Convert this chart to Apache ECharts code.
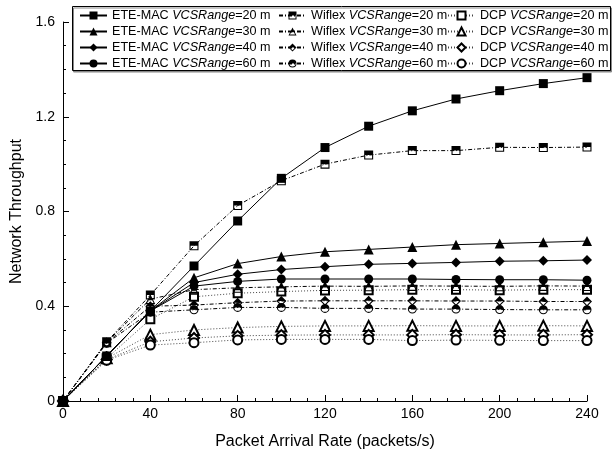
<!DOCTYPE html>
<html>
<head>
<meta charset="utf-8">
<script src="https://cdn.jsdelivr.net/npm/echarts@6/dist/echarts.min.js"></script>
<style>
  html, body { margin: 0; padding: 0; background: #fff; }
  #MyChart { width: 614px; height: 459px; }
</style>
</head>
<body>
<div id="MyChart"></div>
<script>
// packet arrival rate (packets/s)
const rates = [0, 20, 40, 60, 80, 100, 120, 140, 160, 180, 200, 220, 240];
const ranges = ['20', '30', '40', '60'];

// network throughput
const eteMac20 = [0, 0.19, 0.38, 0.57, 0.76, 0.94, 1.07, 1.16, 1.225, 1.275, 1.31, 1.34, 1.365];
const eteMac30 = [0, 0.19, 0.38, 0.52, 0.58, 0.61, 0.63, 0.64, 0.65, 0.66, 0.665, 0.67, 0.675];
const eteMac40 = [0, 0.19, 0.38, 0.50, 0.535, 0.555, 0.567, 0.577, 0.581, 0.585, 0.59, 0.592, 0.595];
const eteMac60 = [0, 0.19, 0.38, 0.485, 0.505, 0.515, 0.515, 0.515, 0.515, 0.513, 0.512, 0.512, 0.51];

const wiflex20 = [0, 0.25, 0.447, 0.655, 0.825, 0.93, 1.0, 1.038, 1.057, 1.057, 1.071, 1.07, 1.072];
const wiflex30 = [0, 0.248, 0.43, 0.47, 0.478, 0.482, 0.485, 0.484, 0.486, 0.485, 0.484, 0.486, 0.485];
const wiflex40 = [0, 0.246, 0.40, 0.405, 0.415, 0.422, 0.423, 0.423, 0.423, 0.422, 0.422, 0.42, 0.42];
const wiflex60 = [0, 0.244, 0.375, 0.385, 0.395, 0.395, 0.391, 0.391, 0.388, 0.388, 0.386, 0.385, 0.385];

const dcp20 = [0, 0.18, 0.345, 0.44, 0.455, 0.462, 0.467, 0.468, 0.47, 0.47, 0.468, 0.47, 0.47];
const dcp30 = [0, 0.18, 0.28, 0.30, 0.31, 0.315, 0.317, 0.317, 0.318, 0.317, 0.317, 0.318, 0.317];
const dcp40 = [0, 0.175, 0.25, 0.266, 0.275, 0.278, 0.279, 0.279, 0.279, 0.28, 0.279, 0.279, 0.28];
const dcp60 = [0, 0.172, 0.236, 0.246, 0.258, 0.26, 0.26, 0.26, 0.255, 0.257, 0.256, 0.255, 0.255];

const xTicks = [0, 240, 40];      // min, max, step
const yTicks = [0, 1.6, 0.4];

// half filled markers (outline ring + filled top half)
const halfRect = 'path://M0,0L10,0L10,10L0,10Z M1.2,1.2L1.2,8.8L8.8,8.8L8.8,1.2Z M1.2,1.2L8.8,1.2L8.8,5L1.2,5Z';
const halfTri = 'path://M5,0L10,10L0,10Z M5,2.46L1.78,8.9L8.22,8.9Z M5,2.46L6.77,6L3.23,6Z';
const halfDia = 'path://M5,0L10,5L5,10L0,5Z M5,1.56L1.56,5L5,8.44L8.44,5Z M5,1.56L8.44,5L1.56,5Z';
const halfCir = 'path://M5,0A5,5 0 1,1 5,10A5,5 0 1,1 5,0Z M5,1.2A3.8,3.8 0 1,0 5,8.8A3.8,3.8 0 1,0 5,1.2Z M1.2,5A3.8,3.8 0 0,1 8.8,5Z';

const font = 'Liberation Sans';

function pairs(vals) {
  return rates.map((r, i) => [r, vals[i]]);
}

function makeSeries(proto, valsList, symbols, sizes, lineStyle, itemStyle) {
  return valsList.map((vals, k) => ({
    name: proto + ' VCSRange=' + ranges[k] + ' m',
    type: 'line',
    data: pairs(vals),
    symbol: symbols[k],
    symbolSize: sizes[k],
    showAllSymbol: true,
    lineStyle: lineStyle,
    itemStyle: itemStyle,
    emphasis: { disabled: true }
  }));
}

const dcpSeries = makeSeries('DCP', [dcp20, dcp30, dcp40, dcp60],
  ['emptyRect', 'emptyTriangle', 'emptyDiamond', 'emptyCircle'], [8, 10, 10, 9],
  { color: '#444', width: 1, type: [1, 2] },
  { color: '#000', borderColor: '#000', borderWidth: 1 });
const wiflexSeries = makeSeries('Wiflex', [wiflex20, wiflex30, wiflex40, wiflex60],
  [halfRect, halfTri, halfDia, halfCir], [9, 10, 10, 9],
  { color: '#000', width: 1, type: [4, 2, 1, 2] },
  { color: '#000', borderWidth: 0 });
const eteSeries = makeSeries('ETE-MAC', [eteMac20, eteMac30, eteMac40, eteMac60],
  ['rect', 'triangle', 'diamond', 'circle'], [9, 10, 10, 9],
  { color: '#000', width: 1, type: 'solid' },
  { color: '#000', borderWidth: 0 });

function legendCol(left, list) {
  return {
    left: left,
    top: 9,
    orient: 'vertical',
    padding: 0,
    itemWidth: 27,
    itemHeight: 10,
    itemGap: 3,
    selectedMode: false,
    data: list.map(s => s.name),
    formatter: name => name.replace('VCSRange', '{i|VCSRange}'),
    textStyle: {
      fontFamily: font, fontSize: 12.6, color: '#000',
      rich: { i: { fontFamily: font, fontSize: 12.6, fontStyle: 'italic', color: '#000' } }
    }
  };
}

let myChart = echarts.init(document.getElementById('MyChart'));
let option = {
  animation: false,
  backgroundColor: '#fff',
  grid: { left: 63, right: 27, top: 22, bottom: 58 },
  graphic: [{
    type: 'rect',
    z: 3,
    shape: { x: 72.5, y: 6.5, width: 538, height: 64 },
    style: { fill: '#fff', stroke: '#000', lineWidth: 1,
             shadowColor: '#888', shadowOffsetX: 1, shadowOffsetY: 1.5 }
  }],
  legend: [legendCol(79, eteSeries), legendCol(278, wiflexSeries), legendCol(447, dcpSeries)],
  xAxis: {
    type: 'value',
    min: xTicks[0], max: xTicks[1], interval: xTicks[2],
    name: 'Packet Arrival Rate (packets/s)',
    nameLocation: 'middle',
    nameGap: 33,
    nameTextStyle: { fontFamily: font, fontSize: 16, color: '#000' },
    axisLine: { lineStyle: { color: '#000', width: 1 } },
    axisTick: { inside: true, length: 6, lineStyle: { color: '#000' } },
    minorTick: { show: true, splitNumber: 5, length: 3, lineStyle: { color: '#000' } },
    splitLine: { show: false },
    axisLabel: { fontFamily: font, fontSize: 14, color: '#000', margin: 6 }
  },
  yAxis: {
    type: 'value',
    min: yTicks[0], max: yTicks[1], interval: yTicks[2],
    name: 'Network Throughput',
    nameLocation: 'middle',
    nameGap: 35,
    nameTextStyle: { fontFamily: font, fontSize: 16, color: '#000' },
    axisLine: { show: true, lineStyle: { color: '#000', width: 1 } },
    axisTick: { show: true, inside: true, length: 6, lineStyle: { color: '#000' } },
    minorTick: { show: true, splitNumber: 4, length: 3, lineStyle: { color: '#000' } },
    splitLine: { show: false },
    axisLabel: { fontFamily: font, fontSize: 14, color: '#000', margin: 8 }
  },
  series: dcpSeries.concat(wiflexSeries, eteSeries)
};
myChart.setOption(option);
</script>
</body>
</html>
